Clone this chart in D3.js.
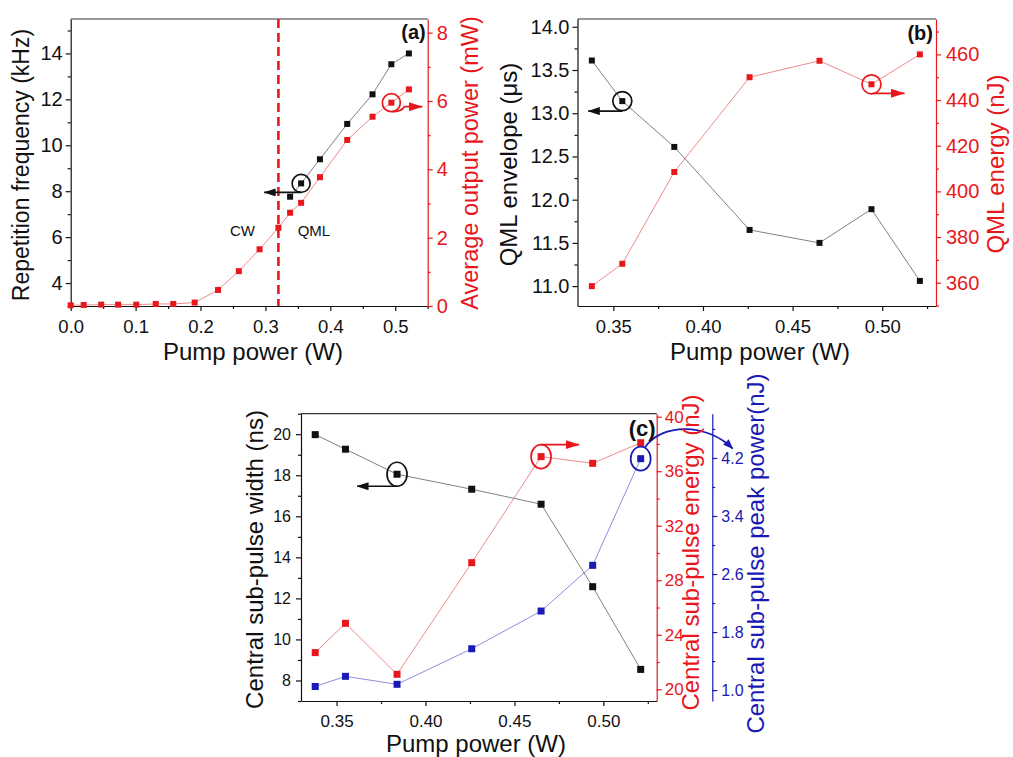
<!DOCTYPE html>
<html><head><meta charset="utf-8">
<script src="https://cdn.jsdelivr.net/npm/d3@7"></script>
<style>body{margin:0;background:#fff} svg{display:block} text{font-family:"Liberation Sans",Arial,sans-serif}</style>
</head><body><svg id="c" width="1013" height="757"></svg>
<script>
// ---------------- data ----------------
const pumpA = [0.0, 0.02, 0.047, 0.073, 0.101, 0.131, 0.158, 0.191, 0.227, 0.259, 0.291, 0.320, 0.338, 0.355, 0.384, 0.426, 0.465, 0.494, 0.521];
const outputPowerA = [0.02, 0.03, 0.04, 0.04, 0.04, 0.06, 0.06, 0.10, 0.47, 1.02, 1.66, 2.29, 2.73, 3.02, 3.77, 4.86, 5.54, 5.95, 6.34];
const pumpQML = [0.338, 0.355, 0.384, 0.426, 0.465, 0.494, 0.521];
const repFreq = [7.76, 8.34, 9.39, 10.93, 12.22, 13.53, 14.0];
const qmlEnvelope = [13.61, 13.14, 12.61, 11.65, 11.50, 11.89, 11.06];
const qmlEnergy = [358.5, 368.3, 408.5, 450.0, 457.2, 446.9, 460.0];
const subWidth = [19.98, 19.27, 18.05, 17.32, 16.59, 12.57, 8.54];
const subEnergy = [22.69, 24.84, 21.10, 29.29, 37.07, 36.58, 38.09];
const subPeak = [1.05, 1.19, 1.08, 1.57, 2.09, 2.72, 4.19];
const thresholdPump = 0.32;

// tick values / labels
const xTicksA = [0, 0.1, 0.2, 0.3, 0.4, 0.5];
const xMinorA = [0.05, 0.15, 0.25, 0.35, 0.45, 0.55];
const yTicksAl = [4, 6, 8, 10, 12, 14];
const yMinorAl = [3, 5, 7, 9, 11, 13, 15];
const yTicksAr = [0, 2, 4, 6, 8];
const yMinorAr = [1, 3, 5, 7];
const xTicksB = [0.35, 0.40, 0.45, 0.50];
const xMinorB = [0.375, 0.425, 0.475, 0.525];
const yTicksBl = [11.0, 11.5, 12.0, 12.5, 13.0, 13.5, 14.0];
const yMinorBl = [11.25, 11.75, 12.25, 12.75, 13.25, 13.75];
const yTicksBr = [360, 380, 400, 420, 440, 460];
const yMinorBr = [350, 370, 390, 410, 430, 450, 470];
const yTicksCl = [8, 10, 12, 14, 16, 18, 20];
const yMinorCl = [7, 9, 11, 13, 15, 17, 19, 21];
const yTicksCr = [20, 24, 28, 32, 36, 40];
const yMinorCr = [22, 26, 30, 34, 38];
const yTicksCb = [1.0, 1.8, 2.6, 3.4, 4.2];
const yMinorCb = [1.4, 2.2, 3.0, 3.8, 4.6];

const labels = {
  pump: "Pump power (W)",
  rep: "Repetition frequency (kHz)",
  avg: "Average output power (mW)",
  env: "QML envelope (\u03bcs)",
  en: "QML energy (nJ)",
  w: "Central sub-pulse width (ns)",
  e: "Central sub-pulse energy (nJ)",
  p: "Central sub-pulse peak power(nJ)"
};

// ---------------- styles ----------------
const RED = "#e8171c", BLUE = "#1a1ab4", BLACK = "#111";
const LRED = "#ef8b8b", LBLUE = "#8d8de0", LBLACK = "#808080";
const FONT = '"Liberation Sans", Arial, sans-serif';
const svg = d3.select("#c");

const defs = svg.append("defs");
function mk(id, color, w, h) {
  defs.append("marker").attr("id", id).attr("markerUnits", "userSpaceOnUse")
    .attr("markerWidth", w).attr("markerHeight", h).attr("refX", w - 0.5).attr("refY", h / 2)
    .attr("orient", "auto")
    .append("path").attr("d", `M0,0 L${w},${h/2} L0,${h} Z`).attr("fill", color);
}
mk("ab", BLACK, 12, 8); mk("ar", RED, 14, 9); mk("abl", BLUE, 10, 8);

function drawAxis(o) {
  const g = svg.append("g").attr("transform", `translate(${o.x},${o.y})`);
  const gen = o.orient === "left" ? d3.axisLeft : o.orient === "right" ? d3.axisRight : d3.axisBottom;
  const ax = gen(o.scale).tickValues(o.major).tickFormat(o.fmt).tickSize(5).tickSizeOuter(0).tickPadding(o.pad || 3);
  g.call(ax);
  const gm = svg.append("g").attr("transform", `translate(${o.x},${o.y})`);
  gm.call(gen(o.scale).tickValues(o.minor).tickFormat("").tickSize(3).tickSizeOuter(0));
  gm.select(".domain").remove();
  [g, gm].forEach(q => {
    q.attr("font-size", null).attr("font-family", null);
    q.selectAll("path,line").attr("stroke", o.color).attr("stroke-width", 1.2);
  });
  g.selectAll("text").attr("fill", o.color).style("font-size", o.fs + "px").style("font-family", FONT);
}
function hline(x1, x2, y, color) {
  svg.append("line").attr("x1", x1).attr("x2", x2).attr("y1", y).attr("y2", y)
    .attr("stroke", color).attr("stroke-width", 1.2);
}
function series(xs, ys, xS, yS, color, lcolor, size) {
  const line = d3.line().x((d, i) => xS(xs[i])).y(d => yS(d));
  svg.append("path").datum(ys).attr("d", line).attr("fill", "none").attr("stroke", lcolor).attr("stroke-width", 1);
  svg.append("g").selectAll("rect").data(ys).join("rect")
    .attr("x", (d, i) => xS(xs[i]) - size / 2).attr("y", d => yS(d) - size / 2)
    .attr("width", size).attr("height", size).attr("fill", color);
}
function vlabel(t, x, y, color, fs) {
  svg.append("text").attr("transform", `translate(${x},${y}) rotate(-90)`)
    .attr("text-anchor", "middle").attr("dy", "0.27em").attr("fill", color)
    .style("font-size", fs + "px").style("font-family", FONT).text(t);
}
function hlabel(t, x, y, color, fs, anchor, weight) {
  svg.append("text").attr("x", x).attr("y", y).attr("text-anchor", anchor || "middle")
    .attr("fill", color).style("font-size", fs + "px").style("font-family", FONT)
    .style("font-weight", weight || "normal").text(t);
}
function ring(cx, cy, rx, ry, color) {
  svg.append("ellipse").attr("cx", cx).attr("cy", cy).attr("rx", rx).attr("ry", ry)
    .attr("fill", "none").attr("stroke", color).attr("stroke-width", 1.7);
}
function arrow(d, color, m) {
  svg.append("path").attr("d", d).attr("fill", "none").attr("stroke", color)
    .attr("stroke-width", 1.7).attr("marker-end", `url(#${m})`);
}
const f1 = d3.format(".1f"), f2 = d3.format(".2f"), f0 = d3.format("d");

// ---------------- panel (a) ----------------
const A = { l: 70.7, r: 427.7, t: 19, b: 306 };
const xA = d3.scaleLinear([0, 0.55], [A.l, A.r]);
const yAl = d3.scaleLinear([3, 15.5], [A.b, A.t]);
const yAr = d3.scaleLinear([0, 8.4], [A.b, A.t]);
hline(A.l, A.r, A.t, "#333");
drawAxis({ x: 0, y: A.b, scale: xA, orient: "bottom", major: xTicksA, minor: xMinorA, fmt: f1, color: BLACK, fs: 18.5, pad: 9 });
drawAxis({ x: A.l, y: 0, scale: yAl, orient: "left", major: yTicksAl, minor: yMinorAl, fmt: f0, color: BLACK, fs: 20, pad: 3 });
drawAxis({ x: A.r, y: 0, scale: yAr, orient: "right", major: yTicksAr, minor: yMinorAr, fmt: f0, color: RED, fs: 20, pad: 4 });
svg.append("line").attr("x1", xA(thresholdPump)).attr("x2", xA(thresholdPump)).attr("y1", A.t).attr("y2", A.b)
  .attr("stroke", RED).attr("stroke-width", 2.6).attr("stroke-dasharray", "9,5");
series(pumpA, outputPowerA, xA, yAr, RED, LRED, 6);
series(pumpQML, repFreq, xA, yAl, BLACK, LBLACK, 6);
{
  const cx = xA(pumpQML[1]), cy = yAl(repFreq[1]);
  ring(cx, cy, 9, 9, BLACK);
  arrow(`M${cx},${cy + 9} L${cx - 37},${cy + 9}`, BLACK, "ab");
  const rx = xA(pumpA[17]), ry = yAr(outputPowerA[17]);
  ring(rx, ry, 9, 9, RED);
  arrow(`M${rx + 1},${ry + 9} Q${rx + 10},${ry + 9} ${rx + 13},${ry + 4} L${rx + 31},${ry + 4}`, RED, "ar");
}
hlabel("CW", 242.5, 236, BLACK, 15);
hlabel("QML", 297.7, 236, BLACK, 15, "start");
hlabel("(a)", A.r - 2, 39, BLACK, 20, "end", "bold");
hlabel(labels.pump, 253, 360, BLACK, 24);
vlabel(labels.rep, 22.5, 165, BLACK, 23);
vlabel(labels.avg, 472, 163, RED, 23.5);

// ---------------- panel (b) ----------------
const B = { l: 577.5, r: 936, t: 19, b: 306 };
const xB = d3.scaleLinear([0.33, 0.53], [B.l, B.r]);
const yBl = d3.scaleLinear([10.77, 14.09], [B.b, B.t]);
const yBr = d3.scaleLinear([349.8, 475.5], [B.b, B.t]);
hline(B.l, B.r, B.t, "#333");
drawAxis({ x: 0, y: B.b, scale: xB, orient: "bottom", major: xTicksB, minor: xMinorB, fmt: f2, color: BLACK, fs: 18.5, pad: 9 });
drawAxis({ x: B.l, y: 0, scale: yBl, orient: "left", major: yTicksBl, minor: yMinorBl, fmt: f1, color: BLACK, fs: 20, pad: 3 });
drawAxis({ x: B.r, y: 0, scale: yBr, orient: "right", major: yTicksBr, minor: yMinorBr, fmt: f0, color: RED, fs: 20, pad: 5 });
series(pumpQML, qmlEnergy, xB, yBr, RED, LRED, 6);
series(pumpQML, qmlEnvelope, xB, yBl, BLACK, LBLACK, 6);
{
  const cx = xB(pumpQML[1]), cy = yBl(qmlEnvelope[1]);
  ring(cx, cy, 9.5, 9.5, BLACK);
  arrow(`M${cx},${cy + 10} L${cx - 34},${cy + 10}`, BLACK, "ab");
  const rx = xB(pumpQML[5]), ry = yBr(qmlEnergy[5]);
  ring(rx, ry, 9.5, 9.5, RED);
  arrow(`M${rx + 1},${ry + 9} L${rx + 33},${ry + 9}`, RED, "ar");
}
hlabel("(b)", B.r - 3, 40, BLACK, 20, "end", "bold");
hlabel(labels.pump, 760, 360, BLACK, 24);
vlabel(labels.env, 511, 164.5, BLACK, 24);
vlabel(labels.en, 998, 164, RED, 24);

// ---------------- panel (c) ----------------
const C = { l: 301, r: 656.7, t: 413.7, b: 701, blue: 712.3 };
const xC = d3.scaleLinear([0.33, 0.53], [C.l, C.r]);
const yCl = d3.scaleLinear([7, 21], [C.b, C.t]);
const yCr = d3.scaleLinear([19.14, 40.22], [C.b, C.t]);
const yCb = d3.scaleLinear([0.85, 4.81], [C.b, C.t]);
hline(C.l, C.r, C.t, "#333");
drawAxis({ x: 0, y: C.b, scale: xC, orient: "bottom", major: xTicksB, minor: xMinorB, fmt: f2, color: BLACK, fs: 17, pad: 9 });
drawAxis({ x: C.l, y: 0, scale: yCl, orient: "left", major: yTicksCl, minor: yMinorCl, fmt: f0, color: BLACK, fs: 16, pad: 5 });
drawAxis({ x: C.r, y: 0, scale: yCr, orient: "right", major: yTicksCr, minor: yMinorCr, fmt: f0, color: RED, fs: 17, pad: 3 });
drawAxis({ x: C.blue, y: 0, scale: yCb, orient: "right", major: yTicksCb, minor: yMinorCb, fmt: f1, color: BLUE, fs: 16, pad: 4 });
series(pumpQML, subPeak, xC, yCb, BLUE, LBLUE, 7);
series(pumpQML, subEnergy, xC, yCr, RED, LRED, 7);
series(pumpQML, subWidth, xC, yCl, BLACK, LBLACK, 7);
{
  const cx = xC(pumpQML[2]), cy = yCl(subWidth[2]);
  ring(cx, cy, 10, 12, BLACK);
  arrow(`M${cx},${cy + 12} L${cx - 40},${cy + 12}`, BLACK, "ab");
  const rx = xC(pumpQML[4]), ry = yCr(subEnergy[4]);
  ring(rx, ry, 10, 12, RED);
  arrow(`M${rx},${ry - 12} L${rx + 38},${ry - 12}`, RED, "ar");
  const bx = xC(pumpQML[6]), by = yCb(subPeak[6]);
  ring(bx, by, 10, 12, BLUE);
  arrow(`M${bx + 4},${by - 11} C${bx + 21},${by - 36} ${bx + 66},${by - 36} ${bx + 92},${by - 10}`, BLUE, "abl");
}
hlabel("(c)", C.r - 1, 436, BLACK, 22, "end", "bold");
hlabel(labels.pump, 476, 752, BLACK, 24);
vlabel(labels.w, 257, 559.5, BLACK, 24);
vlabel(labels.e, 693, 552.5, RED, 24);
vlabel(labels.p, 758, 553.5, BLUE, 24);
</script></body></html>
